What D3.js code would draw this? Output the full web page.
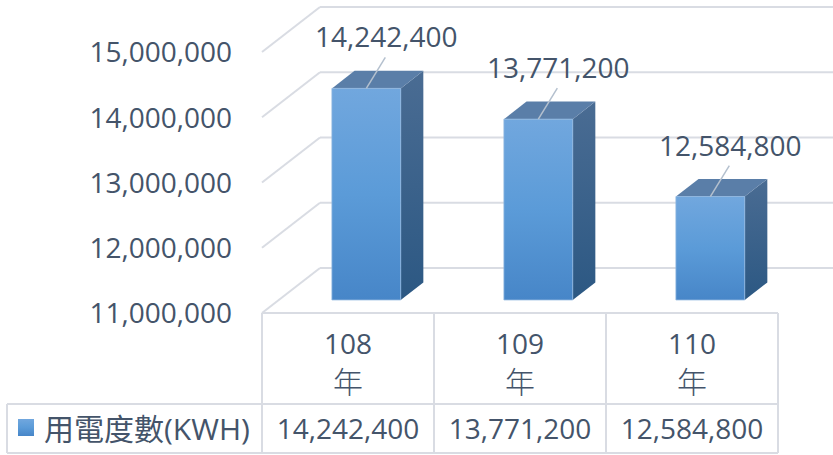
<!DOCTYPE html>
<html>
<head>
<meta charset="utf-8">
<script src="https://cdn.jsdelivr.net/npm/d3@7"></script>
<style>
  html, body { margin: 0; padding: 0; background: #ffffff; }
  svg { display: block; }
  text { font-family: "Open Sans", "Noto Sans CJK TC", sans-serif; fill: #44546a; }
</style>
</head>
<body>
<svg id="chart" width="833" height="455"></svg>
<script>
const categories = ['108', '109', '110'];
const catSuffix = '年';
const values = [14242400, 13771200, 12584800];
const yTicks = [11000000, 12000000, 13000000, 14000000, 15000000];
const seriesName = '用電度數(KWH)';

const svg = d3.select('#chart');
const fmt = d3.format(',');

// oblique depth: front plane -> back wall
const depth = { dx: 58, dy: -45 };
const gridColor = '#d9dce3';

// x on the front plane, y on the back wall
const x = d3.scaleBand().domain(categories).range([262, 778]);
const yBack = d3.scaleLinear().domain([11000000, 15000000]).range([268, 7]);

// point at a given depth fraction (0 = front, 1 = back)
const pt = (px, v, f) => [px + depth.dx * f, yBack(v) - depth.dy * (1 - f)];

// gradients
const defs = svg.append('defs');
const grad = (id, stops) => {
  const g = defs.append('linearGradient').attr('id', id)
    .attr('x1', 0).attr('y1', 0).attr('x2', 0).attr('y2', 1);
  stops.forEach(s => g.append('stop').attr('offset', s[0]).attr('stop-color', s[1]));
};
grad('gFront', [[0, '#71a7de'], [0.5, '#5b9bd8'], [1, '#4786c8']]);
grad('gSide', [[0, '#4a6c93'], [1, '#2c5883']]);

// back wall gridlines + left wall diagonals
const grid = svg.append('g');
yTicks.forEach(t => {
  const back = pt(x.range()[0], t, 1);
  const front = pt(x.range()[0], t, 0);
  grid.append('line')
    .attr('x1', back[0]).attr('y1', back[1])
    .attr('x2', 833).attr('y2', back[1])
    .attr('stroke', gridColor).attr('stroke-width', 2);
  grid.append('line')
    .attr('x1', back[0]).attr('y1', back[1])
    .attr('x2', front[0]).attr('y2', front[1])
    .attr('stroke', gridColor).attr('stroke-width', 2);
});

// y axis labels
svg.append('g').selectAll('text')
  .data(yTicks)
  .join('text')
  .attr('x', 232)
  .attr('y', d => pt(0, d, 0)[1] + 3)
  .attr('text-anchor', 'end')
  .attr('dominant-baseline', 'middle')
  .attr('font-size', 28)
  .text(d => fmt(d));

// bars
const f0 = 0.29, f1 = 0.68;
const barW = x.bandwidth() * 0.4;
const barShift = 1.5;
const bars = svg.append('g');
categories.forEach((c, i) => {
  const v = values[i];
  const xl = x(c) + x.bandwidth() / 2 - barW / 2 + barShift;
  const xr = xl + barW;
  const v0 = yBack.domain()[0];
  const ftl = pt(xl, v, f0), ftr = pt(xr, v, f0);
  const fbl = pt(xl, v0, f0), fbr = pt(xr, v0, f0);
  const btl = pt(xl, v, f1), btr = pt(xr, v, f1), bbr = pt(xr, v0, f1);
  const poly = p => p.map(q => q.join(',')).join(' ');

  bars.append('polygon').attr('points', poly([ftr, btr, bbr, fbr]))
    .attr('fill', 'url(#gSide)');
  bars.append('polygon').attr('points', poly([ftl, ftr, btr, btl]))
    .attr('fill', '#5a7ea8');
  bars.append('polygon').attr('points', poly([ftl, ftr, fbr, fbl]))
    .attr('fill', 'url(#gFront)')
    .attr('stroke', '#8fb6e0').attr('stroke-width', 0.8);

  // leader line + data label
  const cx = (ftl[0] + ftr[0]) / 2;
  const topY = ftl[1];
  bars.append('line')
    .attr('x1', cx).attr('y1', topY)
    .attr('x2', cx + 19).attr('y2', topY - 31)
    .attr('stroke', '#b4c0ce').attr('stroke-width', 1.5);
  bars.append('text')
    .attr('x', cx + 20).attr('y', topY - 41)
    .attr('text-anchor', 'middle')
    .attr('font-size', 28)
    .text(fmt(v));
});

// data table
const table = svg.append('g');
const tTop = 313, tMid = 404, tBot = 453, legLeft = 7;
const xs = x.domain().map(d => x(d)).concat([x.range()[1]]);
const hline = (x1, x2, yy) => table.append('line')
  .attr('x1', x1).attr('x2', x2).attr('y1', yy).attr('y2', yy)
  .attr('stroke', gridColor).attr('stroke-width', 2);
const vline = (xx, y1, y2) => table.append('line')
  .attr('x1', xx).attr('x2', xx).attr('y1', y1).attr('y2', y2)
  .attr('stroke', gridColor).attr('stroke-width', 2);

hline(xs[0], xs[xs.length - 1], tTop);
hline(legLeft, xs[xs.length - 1], tMid);
hline(legLeft, xs[xs.length - 1], tBot);
xs.forEach(xx => vline(xx, tTop, tBot));
vline(legLeft, tMid, tBot);

categories.forEach((c, i) => {
  const cx = x(c) + x.bandwidth() / 2;
  table.append('text').attr('x', cx).attr('y', 354)
    .attr('text-anchor', 'middle').attr('font-size', 28).text(c);
  table.append('text').attr('x', cx).attr('y', 393)
    .attr('text-anchor', 'middle').attr('font-size', 30).attr('font-weight', 300).text(catSuffix);
  table.append('text').attr('x', cx).attr('y', 439)
    .attr('text-anchor', 'middle').attr('font-size', 28).text(fmt(values[i]));
});

// legend key
table.append('rect')
  .attr('x', 18).attr('y', 419).attr('width', 16).attr('height', 17)
  .attr('fill', 'url(#gFront)');
table.append('text')
  .attr('x', 44).attr('y', 440)
  .attr('font-size', 30)
  .text(seriesName);
</script>
</body>
</html>
